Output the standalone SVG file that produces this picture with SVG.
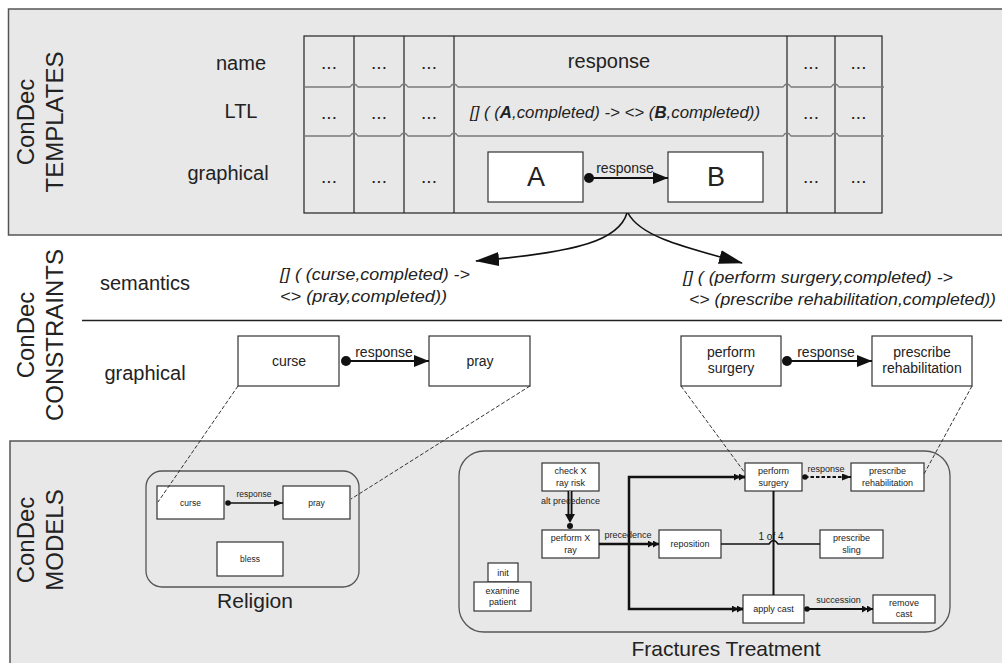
<svg xmlns="http://www.w3.org/2000/svg" width="1002" height="663" viewBox="0 0 1002 663">
  <defs>
    <style>
      text { font-family: "Liberation Sans", Arial, sans-serif; fill: #222; }
      .panel { fill: #e8e8e8; stroke: #555; stroke-width: 1.5; }
      .title { font-size: 24px; text-anchor: middle; }
      .rowlab { font-size: 20px; text-anchor: middle; }
      .cell { font-size: 19px; text-anchor: middle; }
      .grid { fill: none; stroke: #222; stroke-width: 1.2; }
      .rowline { fill: none; stroke: #7a7a7a; stroke-width: 1.3; }
      .box { fill: #fff; stroke: #333; stroke-width: 1.2; }
      .big { font-size: 27px; text-anchor: middle; }
      .mid { font-size: 14px; text-anchor: middle; }
      .formula { font-size: 17px; font-style: italic; }
      .small { font-size: 9px; text-anchor: middle; }
      .tiny { font-size: 8.5px; text-anchor: middle; }
      .cap { font-size: 21px; text-anchor: middle; }
      .wire { fill: none; stroke: #111; }
      .trace { fill: none; stroke: #333; stroke-width: 1; stroke-dasharray: 4 2; }
      .group { fill: none; stroke: #555; stroke-width: 1.3; }
    </style>
    <marker id="headBig" viewBox="0 0 24 14" refX="23" refY="7" markerWidth="24" markerHeight="14" markerUnits="userSpaceOnUse" orient="auto">
      <path d="M0,0 L24,7 L0,14 z" fill="#111"/>
    </marker>
    <marker id="headMid" viewBox="0 0 15 12" refX="15" refY="6" markerWidth="15" markerHeight="12" markerUnits="userSpaceOnUse" orient="auto">
      <path d="M0,0 L15,6 L0,12 z" fill="#111"/>
    </marker>
    <marker id="dotMid" viewBox="0 0 11 11" refX="5.5" refY="5.5" markerWidth="11" markerHeight="11" markerUnits="userSpaceOnUse">
      <circle cx="5.5" cy="5.5" r="5" fill="#111"/>
    </marker>
    <marker id="headSm" viewBox="0 0 9 7" refX="9" refY="3.5" markerWidth="9" markerHeight="7" markerUnits="userSpaceOnUse" orient="auto">
      <path d="M0,0 L9,3.5 L0,7 z" fill="#111"/>
    </marker>
    <marker id="headDbl" viewBox="0 0 11 7" refX="11" refY="3.5" markerWidth="11" markerHeight="7" markerUnits="userSpaceOnUse" orient="auto">
      <path d="M0,0 L6,3.5 L0,7 z M5,0 L11,3.5 L5,7 z" fill="#111"/>
    </marker>
    <marker id="dotSm" viewBox="0 0 6 6" refX="3" refY="3" markerWidth="6" markerHeight="6" markerUnits="userSpaceOnUse">
      <circle cx="3" cy="3" r="2.8" fill="#111"/>
    </marker>
  </defs>

  <!-- background bands -->
  <rect x="0" y="0" width="1002" height="663" fill="#fff"/>
  <rect class="panel" x="8.5" y="9" width="1000" height="226"/>
  <rect class="panel" x="10" y="441" width="1000" height="230"/>
  <line x1="82" y1="320.5" x2="1002" y2="320.5" stroke="#222" stroke-width="1.5"/>

  <!-- band titles -->
  <g id="title-templates" class="title">
    <text transform="translate(34,122) rotate(-90)" x="0" y="0">ConDec</text>
    <text transform="translate(34,122) rotate(-90)" x="0" y="29">TEMPLATES</text>
  </g>
  <g id="title-constraints" class="title">
    <text transform="translate(34,335) rotate(-90)" x="0" y="0">ConDec</text>
    <text transform="translate(34,335) rotate(-90)" x="0" y="29">CONSTRAINTS</text>
  </g>
  <g id="title-models" class="title">
    <text transform="translate(34,540) rotate(-90)" x="0" y="0">ConDec</text>
    <text transform="translate(34,540) rotate(-90)" x="0" y="29">MODELS</text>
  </g>

  <!-- template table -->
  <g id="template-table">
    <text class="rowlab" x="241" y="70">name</text>
    <text class="rowlab" x="241" y="118">LTL</text>
    <text class="rowlab" x="228" y="180">graphical</text>
    <rect class="grid" x="304" y="36" width="578" height="177"/>
    <path class="grid" d="M354,36 V213 M404,36 V213 M454,36 V213 M787,36 V213 M835,36 V213"/>
    <path class="rowline" d="M304,87 H350 Q354,81 358,87 H400 Q404,81 408,87 H450 Q454,81 458,87 H783 Q787,81 791,87 H831 Q835,81 839,87 H884"/>
    <path class="rowline" d="M304,136 H350 Q354,130 358,136 H400 Q404,130 408,136 H450 Q454,130 458,136 H783 Q787,130 791,136 H831 Q835,130 839,136 H884"/>
    <g class="cell">
      <text x="329" y="69">...</text><text x="379" y="69">...</text><text x="429" y="69">...</text>
      <text x="811" y="69">...</text><text x="858.5" y="69">...</text>
      <text x="329" y="119">...</text><text x="379" y="119">...</text><text x="429" y="119">...</text>
      <text x="811" y="119">...</text><text x="858.5" y="119">...</text>
      <text x="329" y="183">...</text><text x="379" y="183">...</text><text x="429" y="183">...</text>
      <text x="811" y="183">...</text><text x="858.5" y="183">...</text>
    </g>
    <text class="rowlab" x="609" y="68">response</text>
    <text class="formula" x="470" y="118" textLength="290" lengthAdjust="spacingAndGlyphs">[] ( (<tspan font-weight="bold">A</tspan>,completed) -&gt; &lt;&gt; (<tspan font-weight="bold">B</tspan>,completed))</text>
  </g>
  <g id="tpl-A">
    <rect class="box" x="488" y="152" width="95" height="50"/>
    <text class="big" x="536" y="186">A</text>
  </g>
  <g id="tpl-B">
    <rect class="box" x="668" y="152" width="95" height="50"/>
    <text class="big" x="716" y="186">B</text>
  </g>

  <!-- constraint level -->
  <g id="semantics-label"><text class="rowlab" x="145" y="290">semantics</text></g>
  <g id="graphical-label"><text class="rowlab" x="145" y="380">graphical</text></g>
  <g id="ltl-curse">
    <text class="formula" x="280" y="280" textLength="190" lengthAdjust="spacingAndGlyphs">[] ( (curse,completed) -&gt;</text>
    <text class="formula" x="280" y="302" textLength="167" lengthAdjust="spacingAndGlyphs">&lt;&gt; (pray,completed))</text>
  </g>
  <g id="ltl-surgery">
    <text class="formula" x="683" y="283" textLength="270" lengthAdjust="spacingAndGlyphs">[] ( (perform surgery,completed) -&gt;</text>
    <text class="formula" x="689" y="305" textLength="307" lengthAdjust="spacingAndGlyphs">&lt;&gt; (prescribe rehabilitation,completed))</text>
  </g>
  <g id="c-curse">
    <rect class="box" x="238" y="336" width="101" height="50"/>
    <text class="mid" x="289" y="366">curse</text>
  </g>
  <g id="c-pray">
    <rect class="box" x="429" y="336" width="101" height="50"/>
    <text class="mid" x="480" y="366">pray</text>
  </g>
  <g id="c-perform-surgery">
    <rect class="box" x="681" y="336" width="100" height="50"/>
    <text class="mid" x="731" y="357">perform</text>
    <text class="mid" x="731" y="373">surgery</text>
  </g>
  <g id="c-prescribe-rehabilitation">
    <rect class="box" x="872" y="336" width="100" height="50"/>
    <text class="mid" x="922" y="357">prescribe</text>
    <text class="mid" x="922" y="373">rehabilitation</text>
  </g>

  <!-- model level: Religion -->
  <g id="m-religion">
    <rect class="group" x="146" y="471" width="213" height="116" rx="16"/>
    <text class="cap" x="255" y="608">Religion</text>
  </g>
  <g id="m-curse">
    <rect class="box" x="157" y="486" width="67" height="33"/>
    <text class="tiny" x="190.5" y="506">curse</text>
  </g>
  <g id="m-pray">
    <rect class="box" x="283" y="486" width="67" height="33"/>
    <text class="tiny" x="316.5" y="506">pray</text>
  </g>
  <g id="m-bless">
    <rect class="box" x="217" y="542" width="66" height="34"/>
    <text class="tiny" x="250" y="562">bless</text>
  </g>

  <!-- model level: Fractures Treatment -->
  <g id="m-fractures">
    <rect class="group" x="459" y="451" width="491" height="181" rx="25"/>
    <text class="cap" x="726" y="656">Fractures Treatment</text>
  </g>
  <g id="m-check-xray-risk">
    <rect class="box" x="542" y="463" width="57" height="28"/>
    <text class="small" x="570.5" y="474">check X</text>
    <text class="small" x="570.5" y="486">ray risk</text>
  </g>
  <g id="m-perform-xray">
    <rect class="box" x="542" y="530" width="57" height="28"/>
    <text class="small" x="570.5" y="541">perform X</text>
    <text class="small" x="570.5" y="553">ray</text>
  </g>
  <g id="m-examine-patient">
    <rect class="box" x="488" y="563" width="30" height="19"/>
    <text class="small" x="503" y="576">init</text>
    <rect class="box" x="474" y="582" width="57" height="29"/>
    <text class="small" x="502.5" y="594">examine</text>
    <text class="small" x="502.5" y="605">patient</text>
  </g>
  <g id="m-reposition">
    <rect class="box" x="659" y="530" width="62" height="28"/>
    <text class="small" x="690" y="547">reposition</text>
  </g>
  <g id="m-perform-surgery">
    <rect class="box" x="745" y="463" width="57" height="28"/>
    <text class="small" x="773.5" y="474">perform</text>
    <text class="small" x="773.5" y="486">surgery</text>
  </g>
  <g id="m-prescribe-rehabilitation">
    <rect class="box" x="851" y="463" width="73" height="28"/>
    <text class="small" x="887.5" y="474">prescribe</text>
    <text class="small" x="887.5" y="486">rehabilitation</text>
  </g>
  <g id="m-prescribe-sling">
    <rect class="box" x="820" y="530" width="63" height="28"/>
    <text class="small" x="851.5" y="541">prescribe</text>
    <text class="small" x="851.5" y="553">sling</text>
  </g>
  <g id="m-apply-cast">
    <rect class="box" x="743" y="595" width="61" height="28"/>
    <text class="small" x="773.5" y="612">apply cast</text>
  </g>
  <g id="m-remove-cast">
    <rect class="box" x="873" y="595" width="62" height="28"/>
    <text class="small" x="904" y="606">remove</text>
    <text class="small" x="904" y="617">cast</text>
  </g>

  <!-- connectors -->
  <g id="connectors">
    <!-- template to constraint instantiation -->
    <path class="wire" stroke-width="1.6" d="M627,213 C619,240 580,252 476,261" marker-end="url(#headBig)"/>
    <path class="wire" stroke-width="1.6" d="M628,213 C640,236 680,246 742,263" marker-end="url(#headBig)"/>

    <!-- response in the template -->
    <line class="wire" stroke-width="2" x1="589" y1="178" x2="668" y2="178" marker-start="url(#dotMid)" marker-end="url(#headMid)"/>
    <text class="mid" x="625" y="173" font-size="13.5">response</text>

    <!-- response constraints -->
    <line class="wire" stroke-width="2" x1="346" y1="361" x2="429" y2="361" marker-start="url(#dotMid)" marker-end="url(#headMid)"/>
    <text class="mid" x="384" y="357">response</text>
    <line class="wire" stroke-width="2" x1="787" y1="361" x2="872" y2="361" marker-start="url(#dotMid)" marker-end="url(#headMid)"/>
    <text class="mid" x="826" y="357">response</text>

    <!-- traces from constraints to their model occurrences -->
    <line class="trace" x1="238" y1="386" x2="158" y2="502"/>
    <line class="trace" x1="530" y1="386" x2="351" y2="499"/>
    <line class="trace" x1="681" y1="386" x2="745" y2="473"/>
    <line class="trace" x1="972" y1="386" x2="924" y2="474"/>

    <!-- Religion: response -->
    <line class="wire" stroke-width="1.6" x1="228" y1="503" x2="283" y2="503" marker-start="url(#dotSm)" marker-end="url(#headSm)"/>
    <text class="tiny" x="254" y="497">response</text>

    <!-- alternate precedence -->
    <line x1="570" y1="491" x2="570" y2="518" stroke="#111" stroke-width="5"/>
    <line x1="570" y1="491" x2="570" y2="518" stroke="#999" stroke-width="2"/>
    <path d="M565,514 L575,514 L570,523 z" fill="#111"/>
    <circle cx="570" cy="526" r="3" fill="#111"/>
    <text class="small" x="570.5" y="504">alt precedence</text>

    <!-- precedence branching to reposition, perform surgery, apply cast -->
    <line class="wire" stroke-width="2.5" x1="599" y1="544" x2="659" y2="544" marker-end="url(#headDbl)"/>
    <path class="wire" stroke-width="2.5" d="M745,477 H629 V609 H743"/>
    <line class="wire" stroke-width="2.5" x1="735" y1="477" x2="745" y2="477" marker-end="url(#headDbl)"/>
    <line class="wire" stroke-width="2.5" x1="733" y1="609" x2="743" y2="609" marker-end="url(#headDbl)"/>
    <text class="small" x="628" y="538">precedence</text>

    <!-- 1 of 4 choice -->
    <text x="771" y="540" font-size="10" text-anchor="middle">1 of 4</text>
    <line class="wire" stroke-width="2" x1="773.5" y1="491" x2="773.5" y2="595"/>
    <path class="wire" stroke-width="1.6" d="M721,544 H769 Q773.5,537 778,544 H820"/>

    <!-- response (dashed) -->
    <line class="wire" stroke-width="2" stroke-dasharray="3.5 2" x1="805" y1="477" x2="851" y2="477" marker-start="url(#dotSm)" marker-end="url(#headSm)"/>
    <text class="small" x="826" y="472">response</text>

    <!-- succession -->
    <line class="wire" stroke-width="2" x1="807" y1="609" x2="873" y2="609" marker-start="url(#dotSm)" marker-end="url(#headDbl)"/>
    <text class="small" x="838.5" y="603">succession</text>
  </g>
</svg>
